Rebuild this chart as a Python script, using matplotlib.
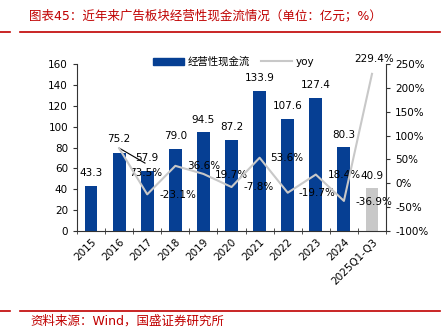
import matplotlib
matplotlib.use('Agg')
from matplotlib import pyplot as plt
from matplotlib.lines import Line2D
import numpy as np

plt.rcParams['font.family'] = ['DejaVu Sans', 'Noto Sans CJK SC']
plt.rcParams['axes.unicode_minus'] = False

years = ['2015', '2016', '2017', '2018', '2019', '2020', '2021', '2022', '2023', '2024', '2025Q1-Q3']
cash_flow = [43.3, 75.2, 57.9, 79.0, 94.5, 87.2, 133.9, 107.6, 127.4, 80.3, 40.9]
yoy = [None, 73.5, -23.1, 36.6, 19.7, -7.8, 53.6, -19.7, 18.4, -36.9, 229.4]
yoy_labels = ['', '73.5%', '-23.1%', '36.6%', '19.7%', '-7.8%', '53.6%', '-19.7%', '18.4%', '-36.9%', '229.4%']

blue = '#063F93'
grey = '#C8C8C8'
red = '#C00000'

fig = plt.figure(figsize=(4.46, 3.31), dpi=100)
ax = fig.add_axes([0.1726, 0.302, 0.693, 0.5046])
ax2 = ax.twinx()

x = np.arange(len(years))
colors = [blue] * (len(years) - 1) + [grey]
ax.bar(x, cash_flow, width=0.46, color=colors, zorder=2)
ax.set_xlim(-0.5, len(years) - 0.5)
ax.set_ylim(0, 160)
ax.set_yticks(range(0, 161, 20))

yx = [i for i, v in enumerate(yoy) if v is not None]
yv = [v for v in yoy if v is not None]
ax2.plot(yx, yv, color=grey, lw=1.5, zorder=3)
ax2.set_ylim(-100, 250)
ax2.set_yticks(range(-100, 251, 50))
ax2.set_yticklabels([f'{t}%' for t in range(-100, 251, 50)])

fs = 7.5
for a in (ax, ax2):
    for s in ('top',):
        a.spines[s].set_visible(False)
    a.tick_params(labelsize=fs, length=3, width=0.8, colors='#333333', labelcolor='black')
ax2.spines['left'].set_visible(False)
ax2.spines['bottom'].set_visible(False)
ax.spines['right'].set_visible(False)
for s in ('left', 'bottom'):
    ax.spines[s].set_color('#333333')
ax2.spines['right'].set_color('#333333')

ax.set_xticks(x)
ax.set_xticklabels(years, rotation=45, ha='right', rotation_mode='anchor', fontsize=fs)
ax.tick_params(axis='x', length=0, pad=4)
ax.set_xticks(np.arange(-0.5, len(years), 1), minor=True)
ax.tick_params(axis='x', which='minor', length=4, direction='inout', color='#333333')

# bar value labels (positions follow the reference layout)
bar_lab_y = [55.6, 87.8, 70.2, 90.7, 106.3, 99.3, 146.3, 120.0, 139.8, 92.0, 52.7]
for i, v in enumerate(cash_flow):
    ax.text(i, bar_lab_y[i], f'{v:.1f}', ha='center', va='center', fontsize=fs, zorder=5)

# yoy labels, placed as in the reference
yoy_lab_pos = [None, (1.95, 55.8), (3.08, 34.5), (4.0, 62.3), (4.98, 53.6), (5.98, 42.4),
               (6.98, 69.6), (8.05, 36.1), (9.02, 53.6), (10.06, 28.0), (10.06, 164.8)]
for i, p in enumerate(yoy_lab_pos):
    if p is None:
        continue
    ax.text(p[0], p[1], yoy_labels[i], ha='center', va='center', fontsize=fs, zorder=5, clip_on=False)
ax.plot([1.0, 1.92], [79.5, 65.1], color='black', lw=0.8, zorder=6)

handles = [plt.Rectangle((0, 0), 1, 1, color=blue), Line2D([0], [0], color=grey, lw=1.5)]
fig.legend(handles, ['经营性现金流', 'yoy'], loc='center', bbox_to_anchor=(0.524, 0.813),
           ncol=2, frameon=False, fontsize=fs, handlelength=3.0, handleheight=0.7,
           columnspacing=1.0, handletextpad=0.4, borderpad=0)

# title, source and red rules
fig.text(29 / 446, 1 - 16 / 331, '图表45：近年来广告板块经营性现金流情况（单位：亿元；%）',
         color=red, fontsize=9, va='center', ha='left')
fig.text(30 / 446, 1 - 321 / 331, '资料来源：Wind，国盛证券研究所', color=red, fontsize=9,
         va='center', ha='left')
for yy in (31.5, 310.5):
    fig.add_artist(Line2D([0, 10 / 446], [1 - yy / 331] * 2, color=red, lw=1.2))
    fig.add_artist(Line2D([20 / 446, 440 / 446], [1 - yy / 331] * 2, color=red, lw=1.2))

fig.savefig('out.png', dpi=100)
